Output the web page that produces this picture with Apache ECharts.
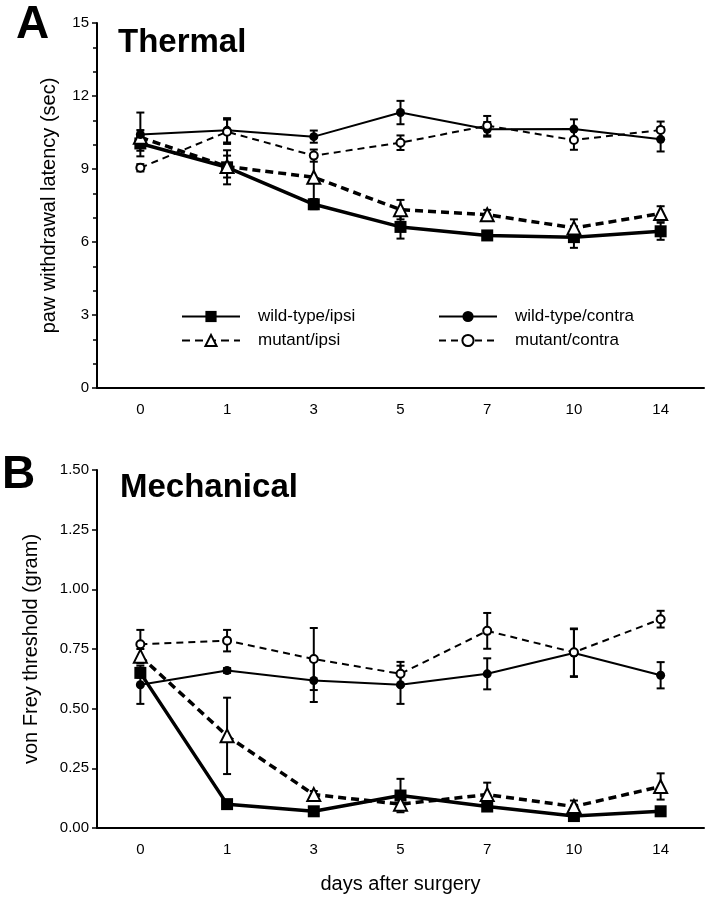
<!DOCTYPE html>
<html>
<head>
<meta charset="utf-8">
<title>Thermal and mechanical thresholds</title>
<script src="https://cdn.jsdelivr.net/npm/echarts@6/dist/echarts.min.js"></script>
<style>
  html, body { margin: 0; background: #fff; }
  #chart { width: 709px; height: 899px; }
</style>
</head>
<body>
<div id="chart"></div>
<script>
// x categories (days after surgery)
var days = ['0', '1', '3', '5', '7', '10', '14'];

// A: thermal paw withdrawal latency (sec), means and SEM
var thermWtIpsi      = [10.05, 9.07, 7.55, 6.62, 6.27, 6.20, 6.44];
var thermWtIpsiErr   = [0.30, 0.70, 0.20, 0.48, 0.15, 0.44, 0.35];
var thermMutIpsi     = [10.30, 9.10, 8.66, 7.33, 7.12, 6.58, 7.17];
var thermMutIpsiErr  = [0.30, 0.45, 0.90, 0.40, 0.20, 0.35, 0.30];
var thermWtCon       = [10.42, 10.59, 10.33, 11.32, 10.63, 10.64, 10.22];
var thermWtConErr    = [0.90, 0.50, 0.25, 0.48, 0.30, 0.40, 0.50];
var thermMutCon      = [9.05, 10.53, 9.55, 10.08, 10.78, 10.19, 10.60];
var thermMutConErr   = [0.15, 0.50, 0.25, 0.30, 0.40, 0.40, 0.35];

// B: von Frey threshold (gram), means and SEM
var mechWtIpsi       = [0.65, 0.10, 0.07, 0.136, 0.09, 0.05, 0.07];
var mechWtIpsiErr    = [0.02, 0.01, 0.01, 0.07, 0.01, 0.01, 0.01];
var mechMutIpsi      = [0.72, 0.386, 0.14, 0.10, 0.14, 0.09, 0.174];
var mechMutIpsiErr   = [0.03, 0.16, 0.015, 0.02, 0.05, 0.025, 0.055];
var mechWtCon        = [0.60, 0.66, 0.618, 0.60, 0.646, 0.733, 0.64];
var mechWtConErr     = [0.08, 0.01, 0.09, 0.08, 0.065, 0.10, 0.055];
var mechMutCon       = [0.77, 0.785, 0.708, 0.646, 0.826, 0.736, 0.875];
var mechMutConErr    = [0.06, 0.045, 0.13, 0.05, 0.075, 0.10, 0.035];

var thermTicks = [0, 3, 6, 9, 12, 15];
var mechTicks = [0, 0.25, 0.5, 0.75, 1.0, 1.25, 1.5];

var FONT = '"Liberation Sans", Arial, sans-serif';

var styles = {
    'wild-type/ipsi':   { symbol: 'rect', size: 12, width: 3.5, dash: 'solid', fill: '#000' },
    'mutant/ipsi':      { symbol: 'triangle', size: 13, width: 3.5, dash: [8, 5], fill: '#fff' },
    'wild-type/contra': { symbol: 'circle', size: 9, width: 2, dash: 'solid', fill: '#000' },
    'mutant/contra':    { symbol: 'circle', size: 8, width: 2, dash: [7, 5], fill: '#fff' }
};

function lineSeries(name, values, idx) {
    var s = styles[name];
    return {
        name: name,
        type: 'line',
        xAxisIndex: idx,
        yAxisIndex: idx,
        data: values,
        symbol: s.symbol,
        symbolSize: s.size,
        showAllSymbol: true,
        lineStyle: { color: '#000', width: s.width, type: s.dash },
        itemStyle: { color: s.fill, borderColor: '#000', borderWidth: s.fill === '#fff' ? 2 : 0 },
        emphasis: { disabled: true },
        z: 5
    };
}

function errorSeries(values, errs, idx) {
    var data = values.map(function (v, i) { return [i, v - errs[i], v + errs[i]]; });
    return {
        type: 'custom',
        xAxisIndex: idx,
        yAxisIndex: idx,
        data: data,
        silent: true,
        z: 3,
        renderItem: function (params, api) {
            var lo = api.coord([api.value(0), api.value(1)]);
            var hi = api.coord([api.value(0), api.value(2)]);
            var w = 4;
            var st = { stroke: '#000', lineWidth: 2 };
            return {
                type: 'group',
                children: [
                    { type: 'line', shape: { x1: lo[0], y1: lo[1], x2: hi[0], y2: hi[1] }, style: st },
                    { type: 'line', shape: { x1: lo[0] - w, y1: lo[1], x2: lo[0] + w, y2: lo[1] }, style: st },
                    { type: 'line', shape: { x1: hi[0] - w, y1: hi[1], x2: hi[0] + w, y2: hi[1] }, style: st }
                ]
            };
        }
    };
}

function xAxisCfg(idx, name) {
    return {
        type: 'category',
        gridIndex: idx,
        data: days,
        boundaryGap: true,
        name: name || '',
        nameLocation: 'middle',
        nameGap: 46,
        nameTextStyle: { fontFamily: FONT, fontSize: 20, color: '#000' },
        axisLine: { lineStyle: { color: '#000', width: 2 } },
        axisTick: { alignWithLabel: true, length: 5, lineStyle: { color: '#000', width: 1.5 } },
        axisLabel: { color: '#000', fontFamily: FONT, fontSize: 15, margin: 14 },
        splitLine: { show: false }
    };
}

function yAxisCfg(idx, name, ticks, digits, gap, minor) {
    return {
        type: 'value',
        gridIndex: idx,
        min: ticks[0],
        max: ticks[ticks.length - 1],
        interval: ticks[1] - ticks[0],
        name: name,
        nameLocation: 'middle',
        nameGap: gap,
        nameTextStyle: { fontFamily: FONT, fontSize: 20, color: '#000' },
        axisLine: { show: true, lineStyle: { color: '#000', width: 2 } },
        axisTick: { show: true, length: 5, lineStyle: { color: '#000', width: 1.5 } },
        minorTick: { show: minor, splitNumber: 3, length: 4, lineStyle: { color: '#000', width: 1.5 } },
        axisLabel: {
            color: '#000', fontFamily: FONT, fontSize: 15, margin: 8,
            formatter: function (v) { return v.toFixed(digits); }
        },
        splitLine: { show: false }
    };
}

var names = ['wild-type/ipsi', 'mutant/ipsi', 'wild-type/contra', 'mutant/contra'];
var thermVals = [thermWtIpsi, thermMutIpsi, thermWtCon, thermMutCon];
var thermErrs = [thermWtIpsiErr, thermMutIpsiErr, thermWtConErr, thermMutConErr];
var mechVals = [mechWtIpsi, mechMutIpsi, mechWtCon, mechMutCon];
var mechErrs = [mechWtIpsiErr, mechMutIpsiErr, mechWtConErr, mechMutConErr];

var series = [];
names.forEach(function (n, i) {
    series.push(errorSeries(thermVals[i], thermErrs[i], 0));
    series.push(errorSeries(mechVals[i], mechErrs[i], 1));
});
names.forEach(function (n, i) {
    series.push(lineSeries(n, thermVals[i], 0));
    series.push(lineSeries(n, mechVals[i], 1));
});

var legendBase = {
    orient: 'vertical',
    top: 303,
    itemWidth: 58,
    itemHeight: 14,
    itemGap: 7,
    selectedMode: false,
    textStyle: { fontFamily: FONT, fontSize: 17, color: '#000', padding: [0, 0, 0, 13] }
};

var option = {
    animation: false,
    backgroundColor: '#fff',
    grid: [
        { left: 97, top: 23, width: 607, height: 365 },
        { left: 97, top: 470, width: 607, height: 358 }
    ],
    xAxis: [xAxisCfg(0), xAxisCfg(1, 'days after surgery')],
    yAxis: [
        yAxisCfg(0, 'paw withdrawal latency (sec)', thermTicks, 0, 38, true),
        yAxisCfg(1, 'von Frey threshold (gram)', mechTicks, 2, 56, false)
    ],
    legend: [
        Object.assign({}, legendBase, { left: 176, data: ['wild-type/ipsi', 'mutant/ipsi'] }),
        Object.assign({}, legendBase, { left: 433, data: ['wild-type/contra', 'mutant/contra'] })
    ],
    graphic: [
        { type: 'text', left: 16, top: 2, style: { text: 'A', font: 'bold 46px ' + FONT, fill: '#000' } },
        { type: 'text', left: 118, top: 26, style: { text: 'Thermal', font: 'bold 33px ' + FONT, fill: '#000' } },
        { type: 'text', left: 2, top: 452, style: { text: 'B', font: 'bold 46px ' + FONT, fill: '#000' } },
        { type: 'text', left: 120, top: 471, style: { text: 'Mechanical', font: 'bold 33px ' + FONT, fill: '#000' } }
    ],
    series: series
};

var chart = echarts.init(document.getElementById('chart'), null, { renderer: 'canvas' });
chart.setOption(option);
window.addEventListener('resize', chart.resize);
</script>
</body>
</html>
